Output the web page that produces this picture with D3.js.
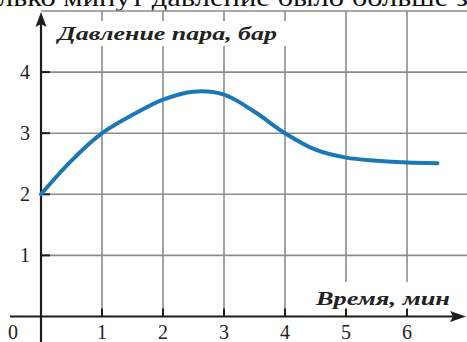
<!DOCTYPE html>
<html><head><meta charset="utf-8">
<script src="https://cdn.jsdelivr.net/npm/d3@7"></script>
<style>html,body{margin:0;padding:0;background:#fff;overflow:hidden}
text{font-family:"Liberation Serif","DejaVu Serif","Times New Roman",serif}</style>
</head><body>
<svg id="c" width="467" height="342"></svg>
<script>
const timeMin = [0,0.5,1,1.5,2,2.5,3,3.5,4,4.5,5,5.5,6,6.5];
const pressureBar = [2.0,2.55,3.0,3.3,3.55,3.68,3.63,3.35,3.0,2.73,2.6,2.55,2.52,2.51];
const xTicks = [1,2,3,4,5,6];
const yTicks = [1,2,3,4];
const yTitle = "Давление пара, бар";
const xTitle = "Время, мин";
const topText = "лько минут давление было больше з";

const svg = d3.select("#c");
const x = d3.scaleLinear().domain([0,7]).range([41,468]);
const y = d3.scaleLinear().domain([0,5]).range([316.5,11]);
const grid = "#8c8c8c", axisC = "#1c1c1c";

svg.append("text").attr("x",-2).attr("y",6)
  .attr("font-size",26)
  .attr("textLength",470).attr("lengthAdjust","spacingAndGlyphs")
  .attr("fill","#111").text(topText);

svg.append("g").selectAll("line").data(d3.range(1,8)).join("line")
  .attr("x1",d=>x(d)).attr("x2",d=>x(d)).attr("y1",y(5)).attr("y2",y(0))
  .attr("stroke",grid).attr("stroke-width",1.6);
svg.append("g").selectAll("line").data(d3.range(1,6)).join("line")
  .attr("x1",x(0)).attr("x2",467).attr("y1",d=>y(d)).attr("y2",d=>y(d))
  .attr("stroke",grid).attr("stroke-width",1.6);

svg.append("rect").attr("x",52).attr("y",21).attr("width",236).attr("height",25).attr("fill","#fff");
svg.append("rect").attr("x",312).attr("y",282).attr("width",142).attr("height",28).attr("fill","#fff");

svg.append("text").attr("x",58).attr("y",40)
  .attr("font-weight","bold").attr("font-style","italic")
  .attr("font-size",18).attr("textLength",219).attr("lengthAdjust","spacingAndGlyphs")
  .attr("fill","#222").text(yTitle);
svg.append("text").attr("x",316).attr("y",305)
  .attr("font-weight","bold").attr("font-style","italic")
  .attr("font-size",19).attr("textLength",134).attr("lengthAdjust","spacingAndGlyphs")
  .attr("fill","#222").text(xTitle);

svg.append("line").attr("x1",10).attr("x2",456).attr("y1",y(0)).attr("y2",y(0))
  .attr("stroke",axisC).attr("stroke-width",2.2);
svg.append("path").attr("d",`M466,${y(0)} L450,${y(0)-5.5} L453,${y(0)} L450,${y(0)+5.5} Z`).attr("fill",axisC);
svg.append("line").attr("x1",x(0)).attr("x2",x(0)).attr("y1",342).attr("y2",22)
  .attr("stroke",axisC).attr("stroke-width",2.2);
svg.append("path").attr("d",`M${x(0)},12 L${x(0)-5.5},27 L${x(0)},24 L${x(0)+5.5},27 Z`).attr("fill",axisC);

svg.append("g").selectAll("line").data(yTicks).join("line")
  .attr("x1",x(0)).attr("x2",x(0)+9).attr("y1",d=>y(d)).attr("y2",d=>y(d))
  .attr("stroke",axisC).attr("stroke-width",2);
svg.append("g").selectAll("line").data(xTicks).join("line")
  .attr("x1",d=>x(d)).attr("x2",d=>x(d)).attr("y1",y(0)).attr("y2",y(0)-8)
  .attr("stroke",axisC).attr("stroke-width",2);

const yl = svg.append("g").selectAll("text").data(yTicks).join("text")
  .attr("x",25).attr("y",d=>y(d)).attr("dy","0.35em").attr("text-anchor","middle").text(d=>d);
const xl = svg.append("g").selectAll("text").data(xTicks).join("text")
  .attr("x",d=>x(d)).attr("y",339).attr("text-anchor","middle").text(d=>d);
const zl = svg.append("text").attr("x",13).attr("y",339).attr("text-anchor","middle").text("0");
[yl,xl,zl].forEach(s=>s.attr("font-size",20).attr("fill","#222"));

const pts = timeMin.map((t,i)=>[t,pressureBar[i]]);
svg.append("path").datum(pts)
  .attr("d",d3.line().x(d=>x(d[0])).y(d=>y(d[1])).curve(d3.curveCatmullRom.alpha(0.5)))
  .attr("fill","none").attr("stroke","#1b78b8").attr("stroke-width",4).attr("stroke-linecap","round");
</script>
</body></html>
